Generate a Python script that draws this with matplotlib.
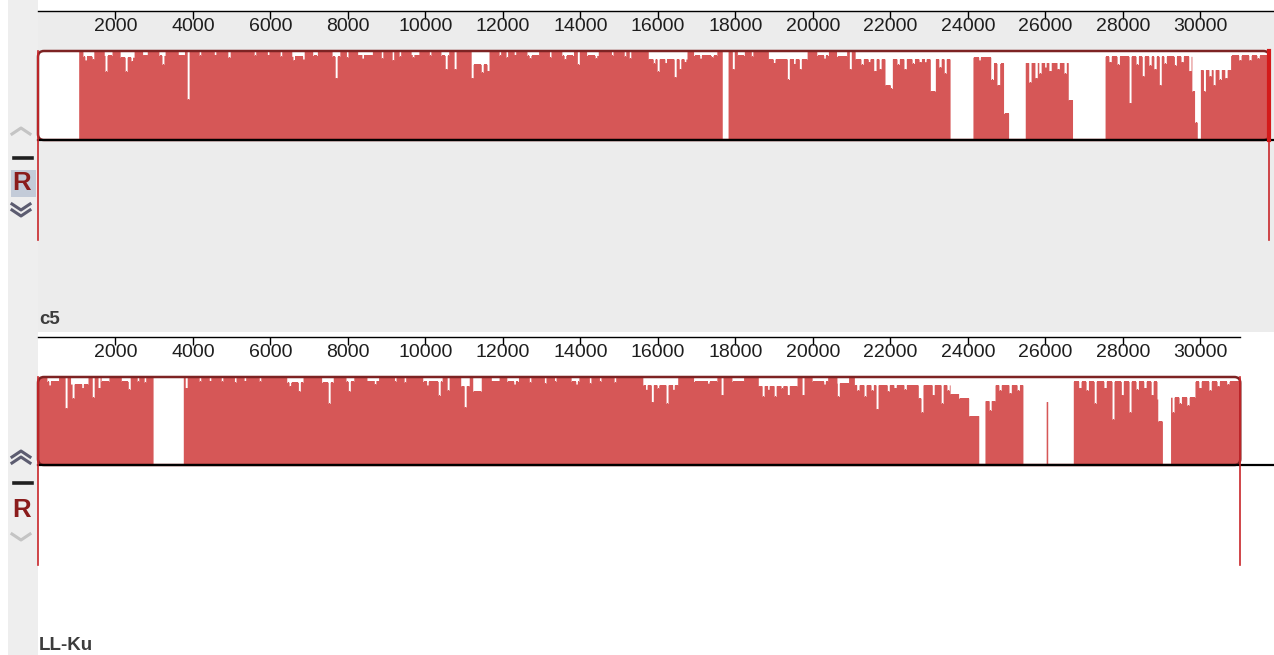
"""Mauve-style similarity profile of two aligned genomes (c5 vs LL-Ku)."""

import numpy as np
import matplotlib

matplotlib.use("Agg")
import matplotlib.pyplot as plt
from matplotlib.lines import Line2D
from matplotlib.patches import FancyBboxPatch, Rectangle

plt.rcParams["font.family"] = ["Liberation Sans", "DejaVu Sans"]

# ---- data (bp positions, similarity as fraction of block height) ----
TICKS = list(range(2000, 30001, 2000))

C5_LEN = 31780
C5_PLATEAUS = [
    (0, 1050, 0.0), (1050, 17660, 1.0), (17660, 17810, 0.0), (17810, 21090, 1.0),
    (21090, 23540, 0.91), (23540, 24130, 0.0), (24130, 24590, 0.93), (24590, 24920, 0.86),
    (24920, 25050, 0.3), (25050, 25480, 0.0), (25480, 26590, 0.87), (26590, 26700, 0.45),
    (26700, 27540, 0.0), (27540, 29780, 0.94), (29780, 29850, 0.55), (29850, 29920, 0.2),
    (29920, 30000, 0.0), (30000, 30780, 0.79), (30780, 31780, 0.95),
]
C5_DIPS = [
    (1300, 280, 0.94), (1230, 40, 0.9), (1420, 40, 0.91), (1810, 200, 0.95), (1755, 50, 0.77),
    (2300, 360, 0.93), (2270, 50, 0.77), (2420, 40, 0.89), (2760, 120, 0.96), (3200, 160, 0.95),
    (3225, 50, 0.85), (3700, 160, 0.96), (3870, 50, 0.46), (4180, 40, 0.95), (4570, 40, 0.96),
    (4930, 60, 0.93), (5600, 40, 0.95), (5940, 40, 0.96), (6270, 40, 0.94), (6710, 320, 0.94),
    (6600, 40, 0.9), (6850, 40, 0.91), (7150, 120, 0.95), (7690, 200, 0.94), (7690, 50, 0.7),
    (7975, 40, 0.93), (8440, 380, 0.96), (8380, 40, 0.92), (8880, 40, 0.92), (9160, 40, 0.9),
    (9340, 40, 0.94), (9730, 200, 0.96), (9680, 40, 0.93), (10120, 40, 0.95), (10500, 200, 0.95),
    (10530, 50, 0.8),
    (10760, 50, 0.8), (11410, 420, 0.85), (11200, 50, 0.7), (11460, 50, 0.76), (11610, 50, 0.78),
    (11920, 40, 0.95), (12100, 40, 0.93), (12310, 40, 0.96), (12765, 300, 0.95), (12700, 40, 0.92),
    (13215, 40, 0.93), (13665, 300, 0.95), (13600, 40, 0.91), (13940, 50, 0.85),
    (14310, 300, 0.95), (14400, 40, 0.92), (14815, 40, 0.95), (15150, 40, 0.94), (15280, 40, 0.92),
    (16250, 1000, 0.91), (15900, 40, 0.86), (16000, 50, 0.77), (16200, 40, 0.87),
    (16440, 50, 0.71), (16570, 40, 0.8), (16700, 40, 0.88),
    (17215, 600, 0.95), (17100, 40, 0.92), (17400, 40, 0.93), (17940, 50, 0.8),
    (18135, 180, 0.95), (18430, 40, 0.94),
    (19345, 1000, 0.91), (19000, 40, 0.87), (19360, 50, 0.68), (19520, 40, 0.86),
    (19670, 50, 0.8), (20245, 300, 0.95), (20300, 40, 0.92), (20735, 260, 0.94), (20960, 50, 0.8),
    (21270, 60, 0.85), (21450, 40, 0.88), (21600, 60, 0.78), (21730, 50, 0.8),
    (21940, 160, 0.62), (22020, 50, 0.58), (22200, 60, 0.85), (22380, 60, 0.8),
    (22590, 60, 0.86), (22765, 60, 0.88), (22900, 40, 0.88), (23090, 130, 0.55),
    (23280, 60, 0.82), (23410, 50, 0.75),
    (24300, 40, 0.9), (24620, 70, 0.68), (24780, 70, 0.62),
    (25600, 60, 0.65), (25760, 60, 0.7), (25860, 60, 0.75), (26000, 40, 0.82), (26120, 60, 0.78),
    (26330, 60, 0.8), (26510, 60, 0.75),
    (27670, 60, 0.88), (27875, 60, 0.85), (28185, 50, 0.42), (28365, 60, 0.85), (28520, 50, 0.72),
    (28700, 60, 0.84), (28830, 60, 0.8), (28960, 50, 0.62), (29090, 60, 0.86), (29350, 50, 0.84),
    (29530, 60, 0.88), (29730, 60, 0.78),
    (30100, 50, 0.55), (30250, 60, 0.72), (30350, 50, 0.62), (30510, 60, 0.68), (30660, 60, 0.7),
    (31020, 60, 0.9), (31280, 60, 0.9), (31490, 60, 0.92),
]

LLKU_LEN = 31030
LLKU_PLATEAUS = [
    (0, 2970, 1.0), (2970, 3750, 0.0), (3750, 21070, 1.0), (21070, 23760, 0.91),
    (23760, 24020, 0.76), (24020, 24280, 0.56), (24280, 24440, 0.0), (24440, 24700, 0.73),
    (24700, 25420, 0.91), (25420, 26720, 0.0), (26020, 26060, 0.72), (26720, 28900, 0.95),
    (28900, 29020, 0.5), (29020, 29230, 0.0), (29230, 29860, 0.77), (29860, 31030, 0.95),
]
LLKU_DIPS = [
    (375, 300, 0.95), (300, 40, 0.91), (720, 50, 0.65), (1060, 450, 0.92), (900, 50, 0.76),
    (1150, 40, 0.88), (1420, 50, 0.77), (1575, 50, 0.88), (1730, 200, 0.95), (2250, 200, 0.95),
    (2350, 50, 0.86), (2580, 40, 0.95), (2760, 40, 0.94), (3820, 50, 0.88), (4180, 40, 0.95),
    (4440, 40, 0.96), (4750, 40, 0.95), (5085, 40, 0.94), (5340, 40, 0.96), (5730, 40, 0.95),
    (6630, 420, 0.94), (6500, 40, 0.9), (6740, 50, 0.84), (7470, 300, 0.94), (7510, 50, 0.7),
    (8050, 200, 0.95), (8030, 50, 0.84), (8635, 300, 0.96), (8700, 40, 0.92), (9215, 40, 0.95),
    (9470, 40, 0.94), (10180, 500, 0.95), (10050, 40, 0.91), (10350, 50, 0.79),
    (10580, 50, 0.85), (11020, 220, 0.9), (11020, 50, 0.66), (11330, 220, 0.84),
    (11795, 200, 0.96), (12245, 300, 0.95), (12300, 40, 0.92), (12700, 40, 0.94),
    (13085, 40, 0.93), (13345, 40, 0.95), (13860, 200, 0.95), (13900, 40, 0.92),
    (14250, 40, 0.93), (14505, 40, 0.95), (14890, 40, 0.94), (16055, 900, 0.91),
    (15700, 40, 0.86), (15850, 50, 0.72), (16000, 40, 0.87), (16235, 50, 0.7), (16400, 40, 0.86),
    (17215, 600, 0.95), (17300, 40, 0.93), (17655, 50, 0.8), (18055, 300, 0.95),
    (19090, 1000, 0.9), (18710, 50, 0.78), (18850, 40, 0.86), (19020, 50, 0.78),
    (19200, 40, 0.87), (19360, 50, 0.8), (19745, 50, 0.8), (20180, 400, 0.95),
    (20300, 40, 0.92), (20765, 300, 0.93), (20650, 50, 0.78),
    (21160, 60, 0.85), (21345, 50, 0.78), (21525, 60, 0.85), (21655, 50, 0.64),
    (21940, 50, 0.84), (22120, 60, 0.88), (22380, 60, 0.86), (22765, 100, 0.76),
    (22815, 50, 0.6), (23100, 50, 0.8), (23330, 50, 0.7), (23490, 60, 0.85), (23650, 220, 0.81),
    (24570, 50, 0.62), (24830, 60, 0.85), (25090, 60, 0.82), (25300, 60, 0.85),
    (26890, 60, 0.88), (27075, 60, 0.85), (27280, 50, 0.7), (27540, 60, 0.88),
    (27745, 50, 0.52), (27980, 50, 0.8), (28185, 50, 0.6), (28365, 60, 0.86),
    (28570, 60, 0.88), (28750, 50, 0.8), (28905, 60, 0.75),
    (29295, 50, 0.6), (29475, 60, 0.7), (29680, 60, 0.68),
    (29990, 60, 0.88), (30250, 60, 0.85), (30455, 60, 0.9), (30710, 60, 0.92),
]

# ---- layout / style ----
W, H = 1274, 655
X0, X1 = 38, 1274
XMAX = 31900
BP_PER_PX = XMAX / (X1 - X0)
RED = "#d65757"
OUTLINE = "#7d2323"
EDGE_RED = "#c8262a"
PANEL_GRAY = "#ececec"


def px_rect(x0, y0, x1, y1):
    return [x0 / W, 1 - y1 / H, (x1 - x0) / W, (y1 - y0) / H]


def fx(x):
    return x / W


def fy(y):
    return 1 - y / H


def build_profile(length, plateaus, dips, step=10):
    grid = np.arange(0, length + step, step)
    sim = np.zeros(len(grid))
    for start, end, level in plateaus:
        sim[(grid >= start) & (grid < end)] = level
    for center, width, level in dips:
        mask = (grid >= center - width / 2) & (grid < center + width / 2)
        sim[mask] = np.minimum(sim[mask], level)
    return grid, sim


def bg_axes(fig, rect, color):
    ax = fig.add_axes(rect, zorder=-5)
    ax.set_facecolor(color)
    ax.set_xticks([])
    ax.set_yticks([])
    for spine in ax.spines.values():
        spine.set_visible(False)
    return ax


def draw_ruler(fig, ruler_y, ruler_end):
    rax = fig.add_axes(px_rect(X0, ruler_y - 10, ruler_end, ruler_y))
    rax.patch.set_alpha(0)
    rax.set_xlim(0, (ruler_end - X0) * BP_PER_PX)
    rax.set_yticks([])
    for side in ("left", "right", "top"):
        rax.spines[side].set_visible(False)
    rax.spines["bottom"].set_linewidth(1.0)
    rax.set_xticks(TICKS, [str(t) for t in TICKS])
    rax.tick_params(axis="x", direction="out", length=6, width=1, pad=-0.8,
                    labelsize=14, labelcolor="#1e1e1e")


def draw_block(fig, length, plateaus, dips, block_top, block_bot, stub_bot, thick_end):
    ax = fig.add_axes(px_rect(X0, block_top, X1, block_bot))
    ax.set_xlim(0, XMAX)
    ax.set_ylim(0, 1)
    ax.axis("off")
    aspect = (1 / (block_bot - block_top)) / BP_PER_PX
    style = f"round,pad=0,rounding_size={6 * BP_PER_PX}"
    box = FancyBboxPatch((0, 0), length, 1, boxstyle=style, mutation_aspect=aspect,
                         facecolor="white", edgecolor="none", zorder=1)
    ax.add_patch(box)
    grid, sim = build_profile(length, plateaus, dips)
    fill = ax.fill_between(grid, sim, step="post", color=RED, linewidth=0, zorder=2)
    fill.set_clip_path(box)
    ax.add_patch(FancyBboxPatch((0, 0), length, 1, boxstyle=style, mutation_aspect=aspect,
                                facecolor="none", edgecolor=OUTLINE, linewidth=1.8,
                                zorder=3, clip_on=False))
    ax.axhline(0, color="black", linewidth=1.6, zorder=4, clip_on=False)
    low = -(stub_bot - block_bot) / (block_bot - block_top)
    for pos in (0, length):
        ax.axvline(pos, ymin=low, ymax=1, color=EDGE_RED, linewidth=1.2, zorder=5, clip_on=False)
    if thick_end:
        ax.axvline(length, ymin=0, ymax=1, color="#d41a1a", linewidth=3, zorder=5, clip_on=False)


def chevron(fig, cx, cy, color, double, up=True):
    sign = 1 if up else -1
    offsets = (-3, 3) if double else (0,)
    for off in offsets:
        fig.add_artist(Line2D([fx(cx - 9), fx(cx), fx(cx + 9)],
                              [fy(cy + off + 3 * sign), fy(cy + off - 3 * sign),
                               fy(cy + off + 3 * sign)],
                              color=color, linewidth=2.2, transform=fig.transFigure))


def controls(fig, up_y, dash_y, r_y, down_y, top_active, boxed):
    active, idle = "#5c5c70", "#c4c4c4"
    chevron(fig, 21, up_y, idle if top_active else active, not top_active, up=True)
    fig.add_artist(Line2D([fx(14), fx(32)], [fy(dash_y), fy(dash_y)], color="#202020",
                          linewidth=2.6, transform=fig.transFigure))
    if boxed:
        fig.add_artist(Rectangle((fx(11), fy(197)), 25 / W, 27 / H, facecolor="#c3cbd8",
                                 edgecolor="none", transform=fig.transFigure))
    fig.text(fx(22), fy(r_y), "R", color="#8a1c1c", fontsize=18.5, fontweight="bold",
             ha="center", va="center")
    chevron(fig, 21, down_y, active if top_active else idle, top_active, up=False)


def main():
    fig = plt.figure(figsize=(W / 100, H / 100), dpi=100)
    fig.patch.set_facecolor("white")
    bg_axes(fig, px_rect(8, 0, X0, H), "#eeeeee")
    bg_axes(fig, px_rect(X0, 11, X1, 332), PANEL_GRAY)

    # c5 panel
    draw_ruler(fig, 11, X1)
    draw_block(fig, C5_LEN, C5_PLATEAUS, C5_DIPS, 51, 140, 240, True)
    controls(fig, 131, 158, 183, 210, True, True)
    fig.text(fx(39), fy(320), "c5", fontsize=13.5, fontweight="bold", color="#3c3c3c",
             ha="left", va="center")

    # LL-Ku panel
    draw_ruler(fig, 337, 1240)
    draw_block(fig, LLKU_LEN, LLKU_PLATEAUS, LLKU_DIPS, 377, 465, 565, False)
    controls(fig, 457, 483, 510, 537, False, False)
    fig.text(fx(39), fy(646), "LL-Ku", fontsize=13.5, fontweight="bold", color="#3c3c3c",
             ha="left", va="center")

    fig.savefig("out.png", dpi=100)
    plt.close(fig)


if __name__ == "__main__":
    main()
